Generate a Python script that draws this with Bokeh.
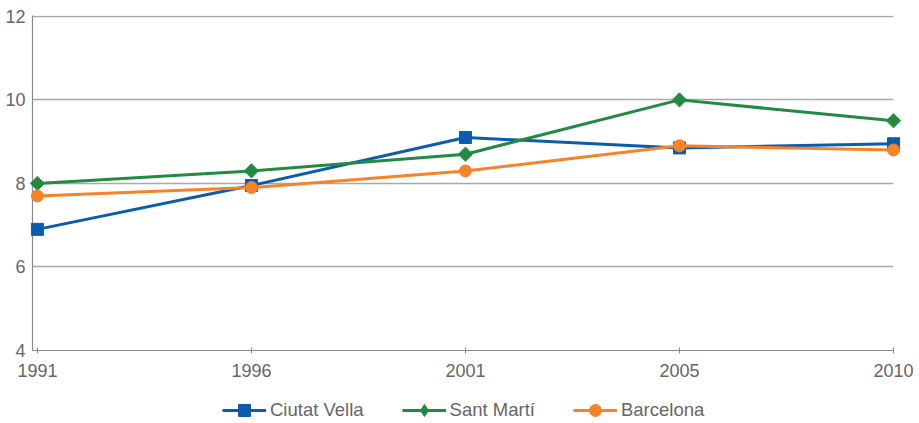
from bokeh.plotting import figure
from bokeh.layouts import column
from bokeh.models import (ColumnDataSource, Range1d, FixedTicker, Legend, LegendItem)
from bokeh.embed import file_html
from bokeh.resources import INLINE

# ---- data -------------------------------------------------------------
years = ["1991", "1996", "2001", "2005", "2010"]
ciutat_vella = [6.9, 7.95, 9.1, 8.85, 8.95]
sant_marti = [8.0, 8.3, 8.7, 10.0, 9.5]
barcelona = [7.7, 7.9, 8.3, 8.9, 8.8]
y_ticks = [4, 6, 8, 10, 12]
series_names = ["Ciutat Vella", "Sant Martí", "Barcelona"]

# ---- styles -----------------------------------------------------------
BLUE = "#0a5dad"
GREEN = "#238a42"
ORANGE = "#f4832a"
TEXT = "#666666"
GRID = "#a9a9a9"
AXIS = "#8a8a8a"
FONT = "Liberation Sans"
FS = "18px"
FS_LEG = "18.5px"

x_idx = list(range(len(years)))
src = ColumnDataSource(dict(x=x_idx, cv=ciutat_vella, sm=sant_marti, bcn=barcelona))

p = figure(width=919, height=382, output_backend="svg", toolbar_location=None,
           x_range=Range1d(-0.023, len(years) - 1), y_range=Range1d(4, 12.02),
           min_border_left=32, min_border_right=26, min_border_top=15,
           min_border_bottom=32)
p.outline_line_color = None
p.background_fill_color = "white"
p.border_fill_color = "white"

# axes
p.xaxis.ticker = FixedTicker(ticks=x_idx)
p.xaxis.major_label_overrides = {i: y for i, y in enumerate(years)}
p.xaxis.minor_tick_line_color = None
p.xaxis.major_tick_in = 3
p.xaxis.major_tick_out = 3
p.xaxis.major_tick_line_color = AXIS
p.xaxis.axis_line_color = AXIS
p.xaxis.axis_line_width = 1.2
p.xaxis.major_label_standoff = 10

p.yaxis.ticker = FixedTicker(ticks=y_ticks)
p.yaxis.minor_tick_line_color = None
p.yaxis.major_tick_line_color = None
p.yaxis.major_tick_in = 0
p.yaxis.major_tick_out = 0
p.yaxis.axis_line_color = AXIS
p.yaxis.axis_line_width = 1.2
p.yaxis.major_label_standoff = 7

for ax in (p.xaxis, p.yaxis):
    ax.major_label_text_font = FONT
    ax.major_label_text_font_size = FS
    ax.major_label_text_color = TEXT

p.xgrid.grid_line_color = None
p.ygrid.ticker = FixedTicker(ticks=y_ticks)
p.ygrid.grid_line_color = GRID
p.ygrid.grid_line_width = 1.3

# series
lw = 3
p.line("x", "cv", source=src, color=BLUE, line_width=lw, level="overlay")
p.scatter("x", "cv", source=src, marker="square", size=12, color=BLUE, level="overlay")
p.line("x", "sm", source=src, color=GREEN, line_width=lw, level="overlay")
p.scatter("x", "sm", source=src, marker="square", angle=0.785398, size=10,
          color=GREEN, level="overlay")
p.line("x", "bcn", source=src, color=ORANGE, line_width=lw, level="overlay")
p.scatter("x", "bcn", source=src, marker="circle", size=12, color=ORANGE, level="overlay")

# ---- legend strip (same data, renderers hidden, only legend shown) ------
lg = figure(width=919, height=41, output_backend="svg", toolbar_location=None,
            x_range=Range1d(0, 1), y_range=Range1d(0, 1),
            x_axis_location=None, y_axis_location=None,
            min_border_left=0, min_border_right=0, min_border_top=0, min_border_bottom=0)
lg.outline_line_color = None
lg.grid.visible = False
lg.background_fill_color = "white"
lg.border_fill_color = "white"

r = {}
r["cv_l"] = lg.line("x", "cv", source=src, color=BLUE, line_width=lw, visible=False)
r["cv_m"] = lg.scatter("x", "cv", source=src, marker="square", size=12, color=BLUE, visible=False)
r["sm_l"] = lg.line("x", "sm", source=src, color=GREEN, line_width=lw, visible=False)
r["sm_m"] = lg.scatter("x", "sm", source=src, marker="diamond", size=14, color=GREEN, visible=False)
r["b_l"] = lg.line("x", "bcn", source=src, color=ORANGE, line_width=lw, visible=False)
r["b_m"] = lg.scatter("x", "bcn", source=src, marker="circle", size=12, color=ORANGE, visible=False)

legend = Legend(items=[
    LegendItem(label=series_names[0], renderers=[r["cv_l"], r["cv_m"]]),
    LegendItem(label=series_names[1], renderers=[r["sm_l"], r["sm_m"]]),
    LegendItem(label=series_names[2], renderers=[r["b_l"], r["b_m"]]),
], location=(190, -2), orientation="horizontal", glyph_width=44, glyph_height=30,
    label_standoff=4, spacing=38, padding=0, margin=0,
    border_line_color=None, background_fill_alpha=0,
    label_text_font=FONT, label_text_font_size=FS_LEG, label_text_color=TEXT)
lg.add_layout(legend, "center")

page = column(p, lg, spacing=0)
open("out.html", "w").write(file_html(page, INLINE))
